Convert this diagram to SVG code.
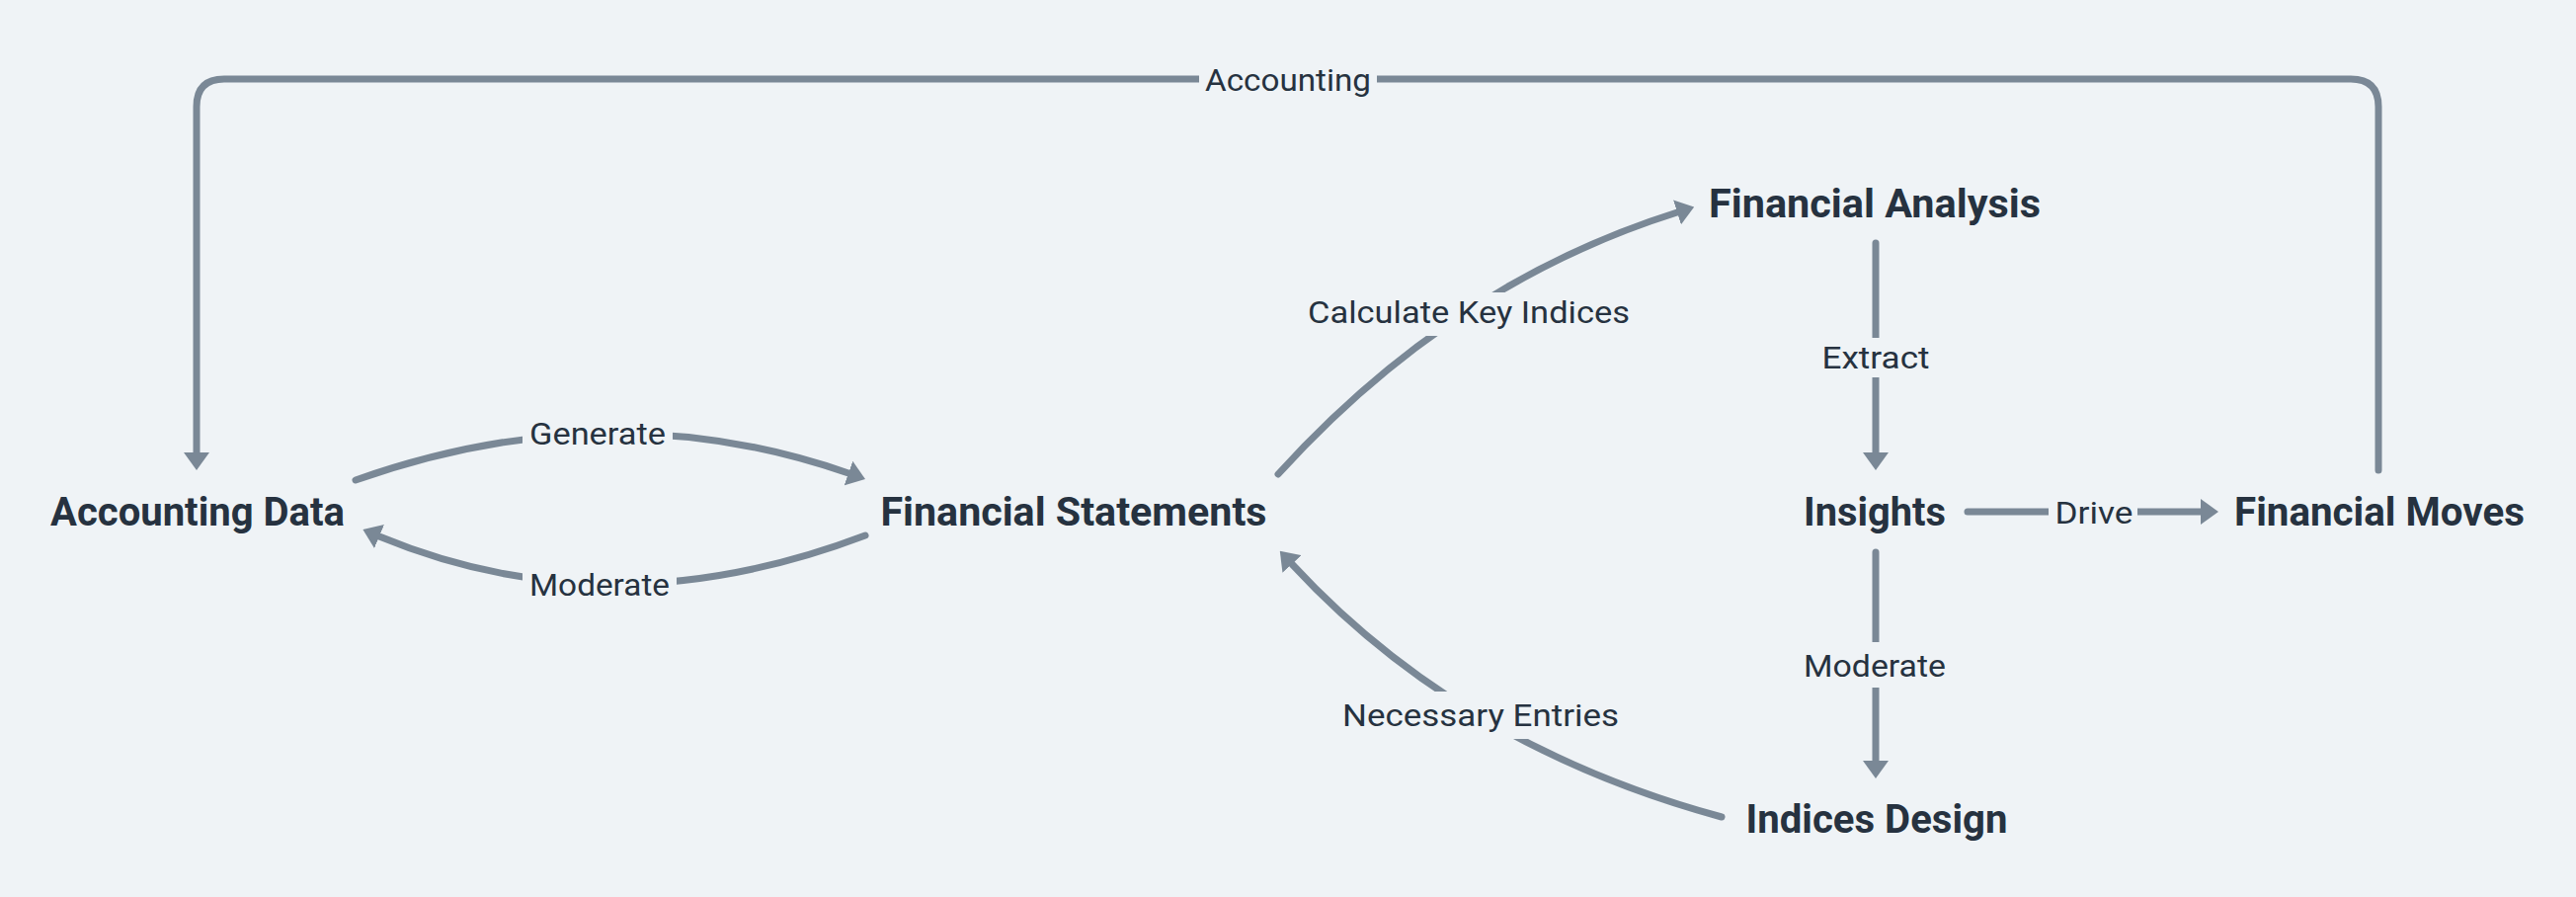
<svg xmlns="http://www.w3.org/2000/svg" width="2608" height="908" viewBox="0 0 2608 908">
<style>
.bg{fill:#eff3f6}
.edge{fill:none;stroke:#7a8896;stroke-width:7;stroke-linecap:round;stroke-linejoin:round}
.lbg{fill:#eff3f6}
.lbl{font-family:Roboto,"Liberation Sans",sans-serif;font-size:32px;fill:#263240;text-anchor:middle}
.node{font-family:Roboto,"Liberation Sans",sans-serif;font-size:40px;font-weight:700;fill:#263240;text-anchor:middle}
</style>
<defs>
<marker id="arr" markerUnits="userSpaceOnUse" viewBox="0 0 18 26" refX="0" refY="13" markerWidth="18" markerHeight="26" orient="auto">
<path d="M0,0 L18,13 L0,26 Z" fill="#7a8896"/>
</marker>
</defs>
<rect class="bg" x="0" y="0" width="2608" height="908"/>
<g id="connectors">
<g id="e-accounting">
<path class="edge" d="M2408,476 L2408,108 Q2408,80 2380,80 L227,80 Q199,80 199,108 L199,458" marker-end="url(#arr)"/>
<rect class="lbg" x="1214" y="64" width="180" height="34"/>
<text class="lbl" x="1304" y="92" textLength="168" lengthAdjust="spacingAndGlyphs">Accounting</text>
</g>
<g id="e-generate">
<path class="edge" d="M360,486 Q618,395 859,479" marker-end="url(#arr)"/>
<rect class="lbg" x="529" y="420" width="152" height="38"/>
<text class="lbl" x="605" y="450" textLength="138" lengthAdjust="spacingAndGlyphs">Generate</text>
</g>
<g id="e-moderate1">
<path class="edge" d="M876,542 Q618,640 384,543" marker-end="url(#arr)"/>
<rect class="lbg" x="529" y="570" width="156" height="40"/>
<text class="lbl" x="607" y="603" textLength="142" lengthAdjust="spacingAndGlyphs">Moderate</text>
</g>
<g id="e-calculate">
<path class="edge" d="M1294,480 Q1469,287 1698,215" marker-end="url(#arr)"/>
<rect class="lbg" x="1316" y="296" width="342" height="44"/>
<text class="lbl" x="1487" y="327" textLength="326" lengthAdjust="spacingAndGlyphs">Calculate Key Indices</text>
</g>
<g id="e-extract">
<path class="edge" d="M1899,246 L1899,458" marker-end="url(#arr)"/>
<rect class="lbg" x="1838" y="342" width="122" height="40"/>
<text class="lbl" x="1899" y="373" textLength="109" lengthAdjust="spacingAndGlyphs">Extract</text>
</g>
<g id="e-drive">
<path class="edge" d="M1992,518 L2228,518" marker-end="url(#arr)"/>
<rect class="lbg" x="2074" y="498" width="90" height="40"/>
<text class="lbl" x="2120" y="530" textLength="79" lengthAdjust="spacingAndGlyphs">Drive</text>
</g>
<g id="e-moderate2">
<path class="edge" d="M1899,559 L1899,770" marker-end="url(#arr)"/>
<rect class="lbg" x="1820" y="650" width="158" height="46"/>
<text class="lbl" x="1898" y="685" textLength="144" lengthAdjust="spacingAndGlyphs">Moderate</text>
</g>
<g id="e-entries">
<path class="edge" d="M1743,827 Q1478,755 1308,571" marker-end="url(#arr)"/>
<rect class="lbg" x="1352" y="700" width="294" height="48"/>
<text class="lbl" x="1499" y="735" textLength="280" lengthAdjust="spacingAndGlyphs">Necessary Entries</text>
</g>
</g>
<g id="n-accounting-data"><text class="node" x="200" y="532" textLength="298" lengthAdjust="spacingAndGlyphs">Accounting Data</text></g>
<g id="n-financial-statements"><text class="node" x="1087" y="532" textLength="391" lengthAdjust="spacingAndGlyphs">Financial Statements</text></g>
<g id="n-financial-analysis"><text class="node" x="1898" y="220" textLength="336" lengthAdjust="spacingAndGlyphs">Financial Analysis</text></g>
<g id="n-insights"><text class="node" x="1898" y="532" textLength="144" lengthAdjust="spacingAndGlyphs">Insights</text></g>
<g id="n-financial-moves"><text class="node" x="2409" y="532" textLength="294" lengthAdjust="spacingAndGlyphs">Financial Moves</text></g>
<g id="n-indices-design"><text class="node" x="1900" y="843" textLength="265" lengthAdjust="spacingAndGlyphs">Indices Design</text></g>
</svg>
